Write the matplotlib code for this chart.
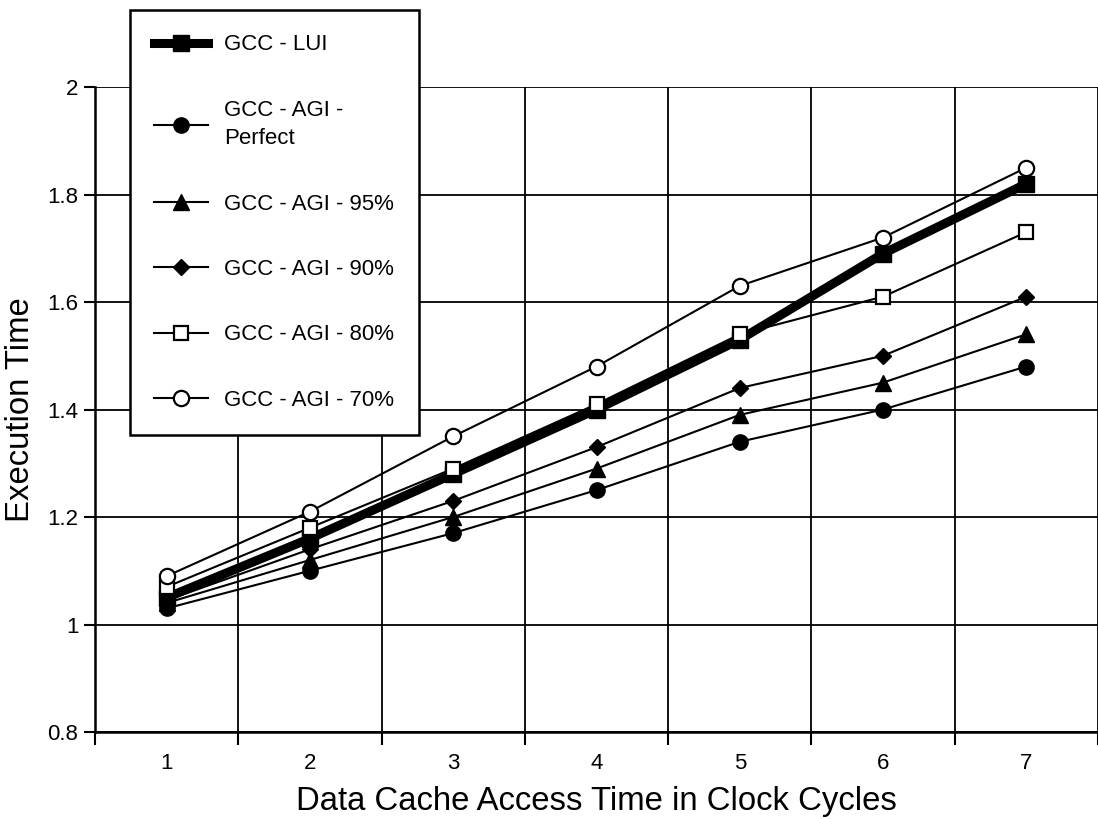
import matplotlib
matplotlib.use("Agg")
import matplotlib.pyplot as plt
import numpy as np

plt.rcParams['font.family'] = ['Liberation Sans', 'DejaVu Sans']

cycles = [1, 2, 3, 4, 5, 6, 7]
gcc_lui = [1.05, 1.16, 1.28, 1.40, 1.53, 1.69, 1.82]
agi_perfect = [1.03, 1.10, 1.17, 1.25, 1.34, 1.40, 1.48]
agi_95 = [1.04, 1.12, 1.20, 1.29, 1.39, 1.45, 1.54]
agi_90 = [1.045, 1.14, 1.23, 1.33, 1.44, 1.50, 1.61]
agi_80 = [1.07, 1.18, 1.29, 1.41, 1.54, 1.61, 1.73]
agi_70 = [1.09, 1.21, 1.35, 1.48, 1.63, 1.72, 1.85]

labels = ["GCC - LUI", "GCC - AGI -\nPerfect", "GCC - AGI - 95%",
          "GCC - AGI - 90%", "GCC - AGI - 80%", "GCC - AGI - 70%"]

W, H = 1098, 819
fig = plt.figure(figsize=(W / 100, H / 100), dpi=100)
ax = fig.add_axes([95 / W, 1 - 732 / H, 1 - 95 / W, (732 - 87) / H])

ax.plot(cycles, gcc_lui, color='k', lw=6.5, marker='s', ms=11,
        mfc='k', mec='k', label=labels[0], zorder=3)
ax.plot(cycles, agi_perfect, color='k', lw=1.5, marker='o', ms=11,
        mfc='k', mec='k', label=labels[1], zorder=4)
ax.plot(cycles, agi_95, color='k', lw=1.5, marker='^', ms=11,
        mfc='k', mec='k', label=labels[2], zorder=4)
ax.plot(cycles, agi_90, color='k', lw=1.5, marker='D', ms=8,
        mfc='k', mec='k', label=labels[3], zorder=4)
ax.plot(cycles, agi_80, color='k', lw=1.5, marker='s', ms=10.5,
        mfc='white', mec='k', mew=1.6, label=labels[4], zorder=5)
ax.plot(cycles, agi_70, color='k', lw=1.5, marker='o', ms=11,
        mfc='white', mec='k', mew=1.6, label=labels[5], zorder=6)

ax.set_xlim(0.5, 0.5 + (W - 95) / 143.9)
ax.set_ylim(0.8, 2.0)

# category axis: ticks and grid at the boundaries, labels at centres
ax.set_xticks(np.arange(0.5, 8.0, 1.0))
ax.set_xticklabels([])
ax.set_xticks(cycles, minor=True)
ax.set_xticklabels([str(c) for c in cycles], minor=True, fontsize=16)
ax.tick_params(axis='x', which='major', direction='out', length=9, width=1.5)
ax.tick_params(axis='x', which='minor', length=0, pad=15)

ax.set_yticks([0.8, 1.0, 1.2, 1.4, 1.6, 1.8, 2.0])
ax.set_yticklabels(['0.8', '1', '1.2', '1.4', '1.6', '1.8', '2'], fontsize=16)
ax.tick_params(axis='y', direction='out', length=8, width=1.5, pad=4)

ax.grid(True, which='major', color='k', lw=1.3)
ax.set_axisbelow(True)

for s in ['top', 'right']:
    ax.spines[s].set_visible(False)
for s in ['left', 'bottom']:
    ax.spines[s].set_linewidth(1.8)

ax.set_xlabel("Data Cache Access Time in Clock Cycles", fontsize=23.7, labelpad=9)
ax.set_ylabel("Execution Time", fontsize=23.7, labelpad=8)

leg = ax.legend(loc='upper left', bbox_to_anchor=(130 / W, 1 - 10 / H),
                bbox_transform=fig.transFigure, borderaxespad=0,
                fancybox=False, framealpha=1, edgecolor='k', fontsize=16,
                handlelength=2.4, handletextpad=0.75, labelspacing=2.0,
                borderpad=1.1)
leg.get_frame().set_linewidth(1.8)
leg.get_texts()[1].set_linespacing(1.45)
leg.set_zorder(10)

fig.savefig("out.png", dpi=100)
